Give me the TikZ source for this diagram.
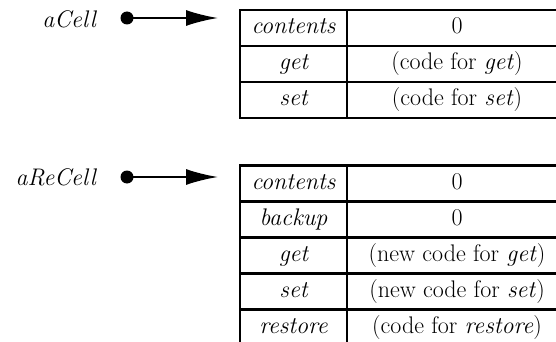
\documentclass[tikz,border=0pt]{standalone}
\usepackage{fontspec}
\usetikzlibrary{arrows.meta}
\begin{document}
\begin{tikzpicture}[x=1pt,y=-1pt,
  txt/.style={font=\fontsize{24}{28}\selectfont, text height=16pt, text depth=5pt},
  lcell/.style={txt, draw, line width=2.2pt, inner sep=0pt, minimum width=107pt, minimum height=36pt},
  rcell/.style={txt, draw, line width=2.2pt, inner sep=0pt, minimum width=220pt, minimum height=36pt},
  dot/.style={circle, fill=black, inner sep=0pt, minimum size=13pt},
  ptr/.style={line width=2pt, -{Latex[length=32pt,width=16pt]}},
  lbl/.style={txt, anchor=east, inner sep=0pt}]
\useasboundingbox (0,0) rectangle (556,342);
\clip (0,0) rectangle (556,342);
% first object
\node[lbl] (n1) at (96,22.5) {\itshape aCell};
\node[dot] (d1) at (127,18) {};
\coordinate (t1) at (218,18);
\draw[ptr] (d1.center) -- (t1);
\node[lcell] (a1) at (293.5,28) {\itshape contents};
\node[rcell] (b1) at (457,28) {0};
\node[lcell] (a2) at (293.5,64) {\itshape get};
\node[rcell] (b2) at (457,64) {(code for \textit{get})};
\node[lcell] (a3) at (293.5,100) {\itshape set};
\node[rcell] (b3) at (457,100) {(code for \textit{set})};
% second object
\node[lbl] (n2) at (96,179.5) {\itshape aReCell};
\node[dot] (d2) at (127,177) {};
\coordinate (t2) at (218,177);
\draw[ptr] (d2.center) -- (t2);
\node[lcell] (c1) at (293.5,183.5) {\itshape contents};
\node[rcell] (e1) at (457,183.5) {0};
\node[lcell] (c2) at (293.5,219.5) {\itshape backup};
\node[rcell] (e2) at (457,219.5) {0};
\node[lcell] (c3) at (293.5,255.5) {\itshape get};
\node[rcell] (e3) at (457,255.5) {(new code for \textit{get})};
\node[lcell] (c4) at (293.5,291.5) {\itshape set};
\node[rcell] (e4) at (457,291.5) {(new code for \textit{set})};
\node[lcell] (c5) at (293.5,327.5) {\itshape restore};
\node[rcell] (e5) at (457,327.5) {(code for \textit{restore})};
\end{tikzpicture}
\end{document}
